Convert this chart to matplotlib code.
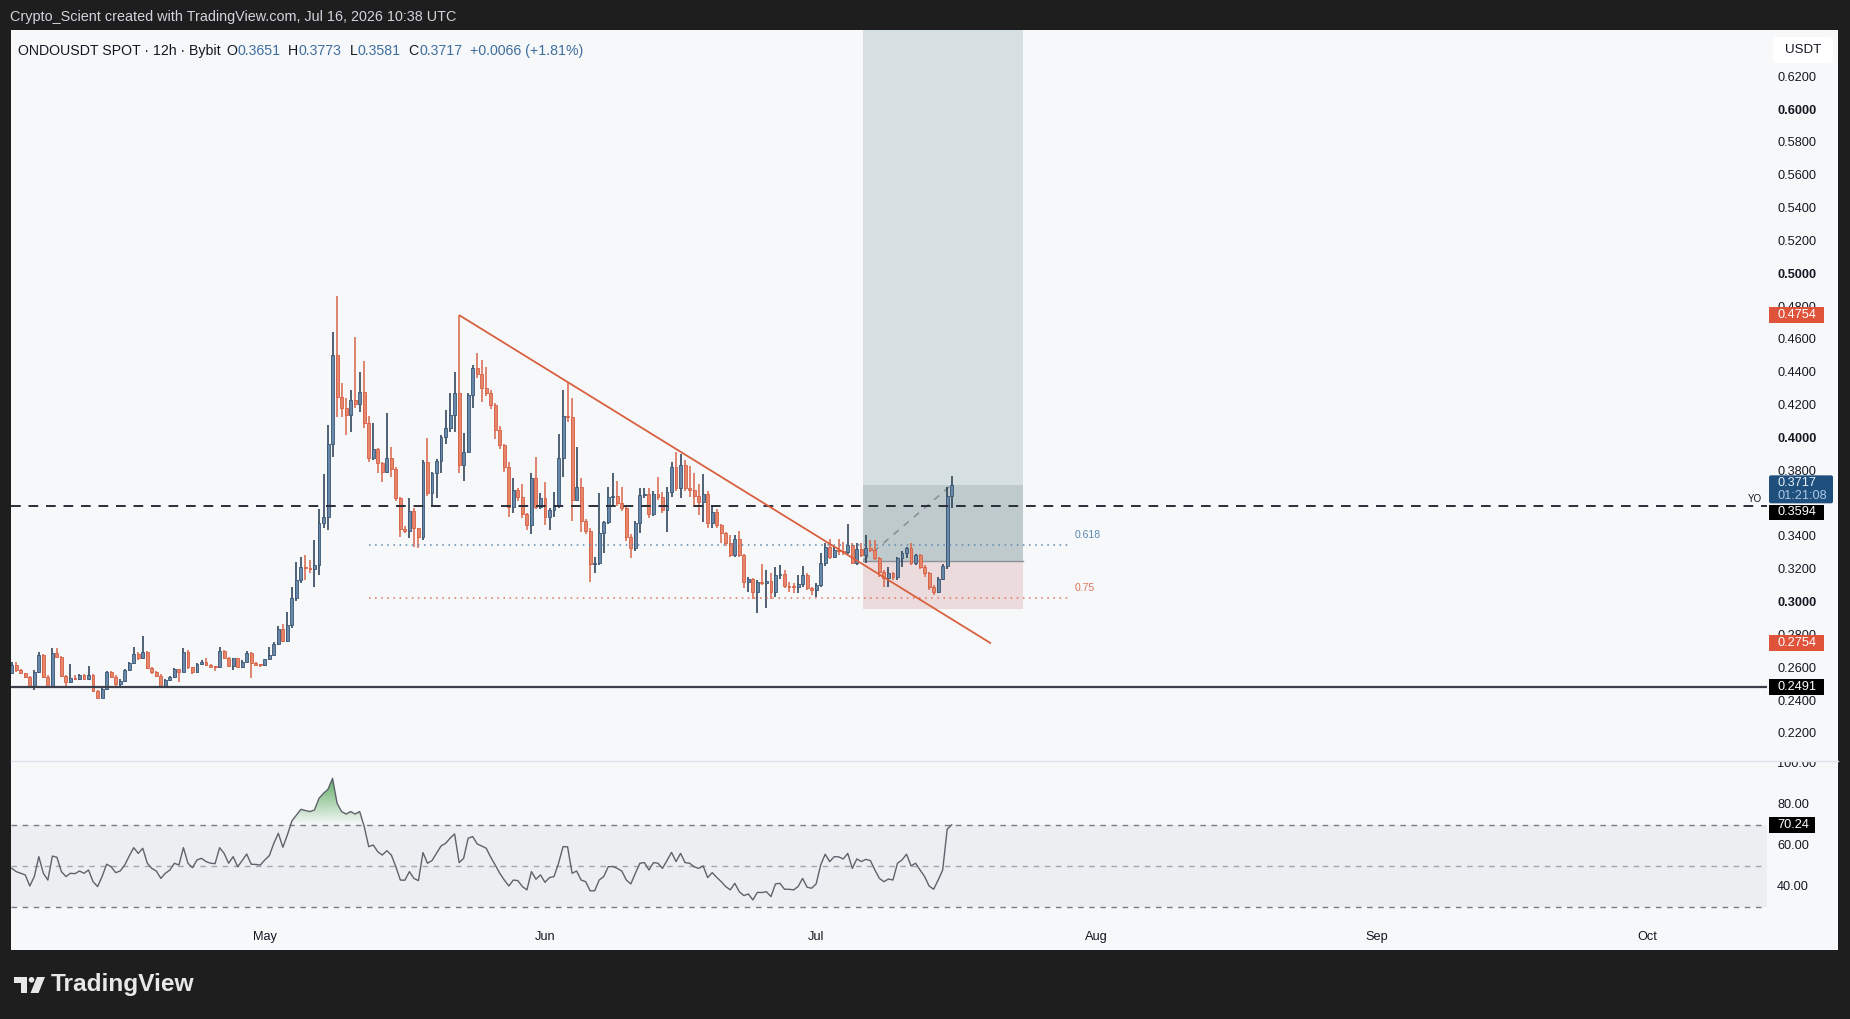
import matplotlib
matplotlib.use("Agg")
import matplotlib.pyplot as plt
import matplotlib.dates as mdates
from matplotlib.patches import Rectangle, Polygon, Circle, PathPatch, FancyBboxPatch
from matplotlib.path import Path
from matplotlib.colors import to_rgb
import numpy as np
import pandas as pd

# ---------------- data ----------------
start = "2026-04-03 00:00"   # first visible 12h candle

opens = [
    0.2575, 0.2623, 0.2592, 0.2572, 0.2552, 0.2491, 0.2582, 0.2684, 0.2552, 0.2491,
    0.2694, 0.2673, 0.2558, 0.2521, 0.2541, 0.2537, 0.2562, 0.2537, 0.2562, 0.2464,
    0.2424, 0.2476, 0.2578, 0.2552, 0.2505, 0.2527, 0.2592, 0.2633, 0.2688, 0.2663,
    0.2704, 0.2606, 0.2578, 0.2558, 0.2495, 0.2531, 0.2552, 0.2598, 0.2582, 0.2704,
    0.2608, 0.2578, 0.2629, 0.2643, 0.2623, 0.2613, 0.2608, 0.2708, 0.2667, 0.2616,
    0.2663, 0.2613, 0.2643, 0.2694, 0.2633, 0.2623, 0.2620, 0.2657, 0.2684, 0.2748,
    0.2840, 0.2770, 0.2866, 0.3029, 0.3140, 0.3221, 0.3211, 0.3206, 0.3232, 0.3485,
    0.3522, 0.3969, 0.4511, 0.4257, 0.4186, 0.4145, 0.4237, 0.4212, 0.4288, 0.4095,
    0.3881, 0.3936, 0.3855, 0.3800, 0.3881, 0.3814, 0.3638, 0.3449, 0.3441, 0.3563,
    0.3455, 0.3404, 0.3861, 0.3672, 0.3790, 0.3867, 0.4013, 0.4064, 0.4145, 0.4277,
    0.3840, 0.3922, 0.4267, 0.4430, 0.4395, 0.4308, 0.4277, 0.4206, 0.4054, 0.3963,
    0.3831, 0.3587, 0.3689, 0.3648, 0.3542, 0.3475, 0.3760, 0.3587, 0.3638, 0.3526,
    0.3567, 0.3591, 0.3881, 0.4139, 0.4135, 0.3628, 0.3705, 0.3502, 0.3441, 0.3238,
    0.3246, 0.3429, 0.3492, 0.3644, 0.3652, 0.3608, 0.3577, 0.3404, 0.3333, 0.3490,
    0.3658, 0.3664, 0.3542, 0.3664, 0.3644, 0.3567, 0.3678, 0.3831, 0.3699, 0.3841,
    0.3699, 0.3690, 0.3652, 0.3618, 0.3662, 0.3485, 0.3556, 0.3475, 0.3425, 0.3364,
    0.3293, 0.3388, 0.3293, 0.3130, 0.3144, 0.3069, 0.3130, 0.3125, 0.3136, 0.3069,
    0.3171, 0.3177, 0.3104, 0.3100, 0.3095, 0.3116, 0.3171, 0.3090, 0.3079, 0.3110,
    0.3246, 0.3343, 0.3282, 0.3323, 0.3318, 0.3313, 0.3354, 0.3242, 0.3327, 0.3293,
    0.3333, 0.3323, 0.3272, 0.3191, 0.3150, 0.3181, 0.3156, 0.3272, 0.3303, 0.3338,
    0.3242, 0.3290, 0.3222, 0.3181, 0.3100, 0.3069, 0.3144, 0.3225, 0.3651,
]
highs = [
    0.2640, 0.2643, 0.2600, 0.2575, 0.2556, 0.2590, 0.2700, 0.2690, 0.2560, 0.2724,
    0.2724, 0.2680, 0.2560, 0.2627, 0.2560, 0.2570, 0.2568, 0.2618, 0.2565, 0.2470,
    0.2480, 0.2585, 0.2585, 0.2560, 0.2535, 0.2600, 0.2640, 0.2734, 0.2700, 0.2799,
    0.2710, 0.2612, 0.2585, 0.2565, 0.2535, 0.2558, 0.2605, 0.2600, 0.2724, 0.2712,
    0.2612, 0.2635, 0.2650, 0.2667, 0.2628, 0.2618, 0.2730, 0.2715, 0.2672, 0.2668,
    0.2668, 0.2650, 0.2705, 0.2700, 0.2638, 0.2630, 0.2662, 0.2734, 0.2760, 0.2862,
    0.2870, 0.2947, 0.3100, 0.3250, 0.3282, 0.3292, 0.3262, 0.3384, 0.3571, 0.3784,
    0.4085, 0.4653, 0.4870, 0.4338, 0.4247, 0.4298, 0.4618, 0.4409, 0.4474, 0.4140,
    0.4095, 0.3945, 0.3860, 0.4156, 0.3952, 0.3830, 0.3645, 0.3470, 0.3638, 0.3580,
    0.3460, 0.3871, 0.4004, 0.3800, 0.3880, 0.4025, 0.4176, 0.4278, 0.4409, 0.4754,
    0.4034, 0.4280, 0.4450, 0.4525, 0.4480, 0.4438, 0.4300, 0.4220, 0.4080, 0.3970,
    0.3860, 0.3760, 0.3700, 0.3725, 0.3550, 0.3790, 0.3888, 0.3668, 0.3739, 0.3580,
    0.3678, 0.4030, 0.4298, 0.4338, 0.4247, 0.3948, 0.3760, 0.3510, 0.3460, 0.3282,
    0.3672, 0.3500, 0.3705, 0.3794, 0.3745, 0.3709, 0.3590, 0.3420, 0.3500, 0.3699,
    0.3699, 0.3699, 0.3680, 0.3765, 0.3678, 0.3705, 0.3861, 0.3922, 0.3906, 0.3871,
    0.3835, 0.3790, 0.3725, 0.3786, 0.3680, 0.3597, 0.3570, 0.3480, 0.3430, 0.3414,
    0.3414, 0.3441, 0.3300, 0.3160, 0.3150, 0.3140, 0.3238, 0.3201, 0.3185, 0.3221,
    0.3232, 0.3201, 0.3130, 0.3120, 0.3171, 0.3225, 0.3180, 0.3100, 0.3120, 0.3307,
    0.3368, 0.3388, 0.3343, 0.3388, 0.3374, 0.3481, 0.3364, 0.3368, 0.3364, 0.3414,
    0.3384, 0.3384, 0.3280, 0.3200, 0.3218, 0.3190, 0.3283, 0.3320, 0.3343, 0.3364,
    0.3300, 0.3300, 0.3230, 0.3190, 0.3110, 0.3156, 0.3238, 0.3709, 0.3773,
]
lows = [
    0.2565, 0.2582, 0.2565, 0.2545, 0.2486, 0.2470, 0.2575, 0.2545, 0.2486, 0.2488,
    0.2665, 0.2550, 0.2490, 0.2510, 0.2530, 0.2530, 0.2530, 0.2530, 0.2456, 0.2415,
    0.2420, 0.2470, 0.2545, 0.2485, 0.2490, 0.2520, 0.2585, 0.2628, 0.2655, 0.2660,
    0.2600, 0.2570, 0.2550, 0.2488, 0.2485, 0.2525, 0.2545, 0.2521, 0.2578, 0.2600,
    0.2570, 0.2572, 0.2625, 0.2618, 0.2608, 0.2586, 0.2605, 0.2660, 0.2610, 0.2592,
    0.2605, 0.2605, 0.2638, 0.2541, 0.2615, 0.2612, 0.2617, 0.2652, 0.2680, 0.2745,
    0.2760, 0.2760, 0.2850, 0.3010, 0.3120, 0.3140, 0.3180, 0.3100, 0.3171, 0.3455,
    0.3445, 0.3892, 0.4135, 0.4135, 0.4024, 0.4044, 0.4190, 0.4166, 0.4064, 0.3860,
    0.3870, 0.3794, 0.3739, 0.3790, 0.3766, 0.3620, 0.3404, 0.3425, 0.3394, 0.3343,
    0.3333, 0.3384, 0.3650, 0.3597, 0.3638, 0.3790, 0.3968, 0.4044, 0.4044, 0.3790,
    0.3745, 0.3912, 0.4186, 0.4370, 0.4226, 0.4260, 0.4180, 0.4000, 0.3940, 0.3800,
    0.3526, 0.3546, 0.3620, 0.3520, 0.3445, 0.3420, 0.3570, 0.3570, 0.3475, 0.3445,
    0.3526, 0.3580, 0.3770, 0.4105, 0.3502, 0.3620, 0.3435, 0.3420, 0.3130, 0.3185,
    0.3230, 0.3302, 0.3480, 0.3587, 0.3590, 0.3560, 0.3380, 0.3272, 0.3320, 0.3428,
    0.3640, 0.3520, 0.3530, 0.3630, 0.3550, 0.3435, 0.3648, 0.3680, 0.3638, 0.3680,
    0.3648, 0.3587, 0.3536, 0.3496, 0.3455, 0.3455, 0.3460, 0.3364, 0.3350, 0.3280,
    0.3280, 0.3280, 0.3090, 0.3069, 0.3023, 0.2937, 0.3110, 0.2968, 0.3023, 0.3035,
    0.3144, 0.3090, 0.3069, 0.3059, 0.3059, 0.3100, 0.3079, 0.3049, 0.3039, 0.3100,
    0.3226, 0.3270, 0.3272, 0.3293, 0.3293, 0.3300, 0.3238, 0.3230, 0.3280, 0.3242,
    0.3310, 0.3260, 0.3161, 0.3100, 0.3100, 0.3140, 0.3140, 0.3222, 0.3272, 0.3230,
    0.3230, 0.3210, 0.3156, 0.3079, 0.3049, 0.3060, 0.3140, 0.3210, 0.3581,
]
closes = [
    0.2623, 0.2592, 0.2572, 0.2552, 0.2491, 0.2582, 0.2684, 0.2552, 0.2491, 0.2694,
    0.2673, 0.2558, 0.2521, 0.2541, 0.2537, 0.2562, 0.2537, 0.2562, 0.2464, 0.2424,
    0.2476, 0.2578, 0.2552, 0.2505, 0.2527, 0.2592, 0.2633, 0.2688, 0.2663, 0.2704,
    0.2606, 0.2578, 0.2558, 0.2495, 0.2531, 0.2552, 0.2598, 0.2582, 0.2704, 0.2608,
    0.2578, 0.2629, 0.2643, 0.2623, 0.2613, 0.2608, 0.2708, 0.2667, 0.2616, 0.2663,
    0.2613, 0.2643, 0.2694, 0.2633, 0.2623, 0.2620, 0.2657, 0.2684, 0.2748, 0.2840,
    0.2770, 0.2866, 0.3029, 0.3140, 0.3221, 0.3211, 0.3206, 0.3232, 0.3485, 0.3522,
    0.3969, 0.4511, 0.4257, 0.4186, 0.4145, 0.4237, 0.4212, 0.4288, 0.4095, 0.3881,
    0.3936, 0.3855, 0.3800, 0.3881, 0.3814, 0.3638, 0.3449, 0.3441, 0.3563, 0.3455,
    0.3404, 0.3861, 0.3672, 0.3790, 0.3867, 0.4013, 0.4064, 0.4145, 0.4277, 0.3840,
    0.3922, 0.4267, 0.4430, 0.4395, 0.4308, 0.4277, 0.4206, 0.4054, 0.3963, 0.3831,
    0.3587, 0.3689, 0.3648, 0.3542, 0.3475, 0.3760, 0.3587, 0.3638, 0.3526, 0.3567,
    0.3591, 0.3881, 0.4139, 0.4135, 0.3628, 0.3705, 0.3502, 0.3441, 0.3238, 0.3246,
    0.3429, 0.3492, 0.3644, 0.3652, 0.3608, 0.3577, 0.3404, 0.3333, 0.3490, 0.3658,
    0.3664, 0.3542, 0.3664, 0.3644, 0.3567, 0.3678, 0.3831, 0.3699, 0.3841, 0.3699,
    0.3690, 0.3652, 0.3618, 0.3662, 0.3485, 0.3556, 0.3475, 0.3425, 0.3364, 0.3293,
    0.3388, 0.3293, 0.3130, 0.3144, 0.3069, 0.3130, 0.3125, 0.3136, 0.3069, 0.3171,
    0.3177, 0.3104, 0.3100, 0.3095, 0.3116, 0.3171, 0.3090, 0.3079, 0.3110, 0.3246,
    0.3343, 0.3282, 0.3323, 0.3318, 0.3313, 0.3354, 0.3242, 0.3327, 0.3293, 0.3333,
    0.3323, 0.3272, 0.3191, 0.3150, 0.3181, 0.3156, 0.3272, 0.3303, 0.3338, 0.3242,
    0.3290, 0.3222, 0.3181, 0.3100, 0.3069, 0.3144, 0.3225, 0.3651, 0.3717,
]
rsi = [
    49.0, 47.4, 46.6, 45.8, 40.4, 45.0, 54.7, 46.6, 43.3, 55.0,
    54.4, 47.4, 45.0, 46.6, 46.4, 47.7, 46.6, 48.2, 42.5, 40.1,
    45.0, 51.0, 49.8, 46.9, 47.7, 50.6, 55.0, 59.1, 56.3, 58.8,
    51.5, 49.0, 47.7, 44.1, 46.6, 48.2, 51.5, 50.6, 59.1, 51.5,
    49.3, 53.1, 53.9, 52.3, 51.5, 51.3, 59.1, 56.3, 51.5, 54.7,
    49.8, 52.8, 56.0, 51.0, 50.9, 50.6, 53.1, 55.2, 61.2, 66.1,
    59.3, 65.3, 72.1, 75.0, 77.8, 77.2, 76.7, 77.5, 83.2, 85.6,
    87.6, 92.9, 80.7, 76.7, 75.5, 76.7, 75.5, 76.7, 69.4, 59.6,
    60.4, 57.1, 55.5, 57.6, 55.5, 49.8, 43.3, 43.2, 47.4, 44.1,
    43.0, 56.7, 51.5, 52.8, 56.3, 59.9, 61.2, 63.7, 65.8, 51.8,
    53.9, 63.7, 64.5, 60.9, 59.9, 58.8, 54.4, 50.6, 46.6, 43.3,
    40.4, 43.3, 43.0, 40.1, 38.5, 47.4, 43.7, 45.8, 42.2, 44.5,
    45.0, 51.5, 59.6, 59.5, 46.6, 47.7, 43.3, 42.5, 38.0, 38.1,
    43.3, 45.0, 49.8, 49.9, 49.0, 47.7, 43.3, 41.4, 46.6, 51.5,
    51.8, 48.2, 51.8, 51.5, 49.0, 52.8, 56.8, 52.3, 56.3, 51.8,
    51.5, 49.8, 49.0, 50.2, 44.5, 46.9, 44.6, 42.5, 40.1, 38.5,
    41.7, 37.6, 35.7, 36.5, 33.6, 37.3, 37.2, 37.6, 35.2, 41.4,
    41.7, 38.8, 38.8, 38.5, 40.1, 44.1, 39.8, 39.3, 41.4, 50.6,
    55.9, 52.3, 54.7, 54.6, 53.6, 56.3, 49.0, 53.6, 52.3, 53.4,
    52.8, 48.2, 44.1, 42.5, 43.8, 43.3, 51.5, 53.1, 55.9, 50.2,
    51.5, 48.2, 45.0, 40.4, 38.8, 43.3, 48.2, 68.1, 70.24,
]

# price-scale labels (0.3600 is fully hidden behind the last-price tags in the reference)
price_ticks = [0.22, 0.24, 0.26, 0.28, 0.30, 0.32, 0.34, 0.38, 0.40, 0.42,
               0.44, 0.46, 0.48, 0.50, 0.52, 0.54, 0.56, 0.58, 0.60, 0.62]
bold_ticks = [0.30, 0.40, 0.50, 0.60]
rsi_ticks = [40, 60, 80, 100]
rsi_levels = [70, 50, 30]
month_dates = ["2026-05-01", "2026-06-01", "2026-07-01", "2026-08-01", "2026-09-01", "2026-10-01"]
month_labels = ["May", "Jun", "Jul", "Aug", "Sep", "Oct"]

yearly_open = 0.3594
support = 0.2491
trend_dates = ["2026-05-22 12:00", "2026-07-20 08:24"]
trend_prices = [0.4754, 0.2754]
fib_dates = ["2026-05-12 13:00", "2026-07-28 20:00"]
fib_label_date = "2026-07-29 14:00"
fib_labels = ["0.618", "0.75"]
fib_prices = [0.3354, 0.3030]
pos_dates = ["2026-07-06 05:00", "2026-07-23 22:00"]
pos_entry, pos_stop, pos_target, pos_current = 0.3259, 0.2966, 0.6800, 0.3717
diag_dates = ["2026-07-06 05:00", "2026-07-15 22:00"]
diag_prices = [0.3259, 0.3717]
last_price = 0.3717
countdown = "01:21:08"
red_marks = [0.4754, 0.2754]
rsi_last = 70.24
legend_title = "ONDOUSDT SPOT · 12h · Bybit"
change_text = "+0.0066 (+1.81%)"

# ---------------- style ----------------
BG = "#1e1e1e"
PANEL = "#f7f8fa"
TXT = "#131722"
UP_F, UP_E, UP_W = "#6888aa", "#3a5573", "#22384f"
DN_F, DN_E, DN_W = "#e8866b", "#d45f43", "#d8654a"
FONT = "Liberation Sans"

W, H = 1850, 1019
fig = plt.figure(figsize=(W / 100, H / 100), dpi=100)
fig.patch.set_facecolor(BG)

ov = fig.add_axes([0, 0, 1, 1], zorder=0)
ov.set_xlim(0, W); ov.set_ylim(H, 0); ov.axis("off")
ov.add_patch(Rectangle((11, 30), 1827, 920, facecolor=PANEL, edgecolor="none"))

L, R = 11, 1767
T1, B1 = 30, 761
T2, B2 = 761, 922
ax = fig.add_axes([L / W, 1 - B1 / H, (R - L) / W, (B1 - T1) / H], zorder=2)
ax2 = fig.add_axes([L / W, 1 - B2 / H, (R - L) / W, (B2 - T2) / H], zorder=2)
for a in (ax, ax2):
    a.set_facecolor("none")
    a.axis("off")

top = fig.add_axes([0, 0, 1, 1], zorder=5)
top.set_xlim(0, W); top.set_ylim(H, 0); top.axis("off")
top.patch.set_alpha(0)

dates = pd.date_range(start, periods=len(closes), freq="12h")
xs = mdates.date2num(dates)
o, h, l, c = (np.array(v) for v in (opens, highs, lows, closes))
xlim = (xs[0] - 0.078, xs[0] + 194.2)
ax.set_xlim(*xlim); ax2.set_xlim(*xlim)
ax.set_ylim(0.20378, 0.64906)
ax2.set_ylim(22.83, 101.37)

# ---- position tool ----
px0, px1 = mdates.date2num(pd.to_datetime(pos_dates))
ax.add_patch(Rectangle((px0, pos_entry), px1 - px0, pos_target - pos_entry,
                       facecolor="#d6dfe1", edgecolor="none", zorder=0.5))
ax.add_patch(Rectangle((px0, pos_entry), px1 - px0, pos_current - pos_entry,
                       facecolor="#bfcacc", edgecolor="none", zorder=0.6))
ax.add_patch(Rectangle((px0, pos_stop), px1 - px0, pos_entry - pos_stop,
                       facecolor="#ecdbdc", edgecolor="none", zorder=0.5))
ax.plot([px0, px1], [pos_entry, pos_entry], color="#8c9199", lw=1.0, zorder=0.7)
ax.plot(mdates.date2num(pd.to_datetime(diag_dates)), diag_prices, color="#8c9199",
        lw=1.2, ls=(0, (4, 4)), zorder=0.8)

# ---- candles ----
up = c >= o
ax.vlines(xs, l, h, colors=np.where(up, UP_W, DN_W), lw=1.1, zorder=3)
ax.bar(xs, np.maximum(np.abs(c - o), 0.0006), bottom=np.minimum(o, c), width=0.32,
       color=np.where(up, UP_F, DN_F), edgecolor=np.where(up, UP_E, DN_E),
       linewidth=0.6, zorder=4)

# ---- horizontal lines (drawn over the candles, as in TradingView) ----
ax.axhline(yearly_open, color="#2a2e39", lw=1.4, ls=(0, (5, 4)), zorder=5)
ax.axhline(support, color="#3b3f4a", lw=1.6, zorder=5)

fx = mdates.date2num(pd.to_datetime(fib_dates))
flx = mdates.date2num(pd.to_datetime(fib_label_date))
for lab, p, col in zip(fib_labels, fib_prices, ["#5b87ad", "#df7359"]):
    ax.plot(fx, [p, p], color=col, lw=1.1, ls=(0, (1, 3)), zorder=5)
    ax.text(flx, p + 0.006, lab, color=col, fontsize=7.5, ha="left", va="center",
            family=FONT, zorder=6)

ax.plot(mdates.date2num(pd.to_datetime(trend_dates)), trend_prices, color="#d9603f",
        lw=1.3, zorder=6, solid_capstyle="butt")

# ---- RSI ----
r = np.array(rsi)
ax2.axhspan(30, 70, color="#eceef1", zorder=0, lw=0)
for lv, col in zip(rsi_levels, ["#787b86", "#a3a6af", "#787b86"]):
    ax2.axhline(lv, color=col, lw=1.0, ls=(0, (4, 4)), zorder=1)
fb = ax2.fill_between(xs, r, 70, where=r >= 70, interpolate=True,
                      facecolor="none", edgecolor="none")
paths = fb.get_paths()
if paths:
    cp = Path.make_compound_path(*paths)
    grad = np.zeros((100, 1, 4))
    grad[..., :3] = to_rgb("#43a047")
    grad[:, 0, 3] = np.linspace(0.0, 0.85, 100)
    im = ax2.imshow(grad, extent=[xs[0], xs[-1], 70, r.max()], origin="lower",
                    aspect="auto", zorder=2, interpolation="bilinear")
    im.set_clip_path(PathPatch(cp, transform=ax2.transData))
ax2.plot(xs, r, color="#5f626c", lw=1.0, zorder=3)
ax2.set_xlim(*xlim); ax2.set_ylim(22.83, 101.37)

# ---------------- helpers ----------------
renderer = fig.canvas.get_renderer()


def ypx(a, v):
    return H - a.transData.transform((xlim[0], v))[1]


def xpx(a, d):
    return a.transData.transform((d, 0))[0]


def text_width(s, fs, **kw):
    t = top.text(0, 0, s, fontsize=fs, **kw)
    w = t.get_window_extent(renderer=renderer).width
    t.remove()
    return w


def fit_size(s, width, **kw):
    return 10 * width / text_width(s, 10, **kw)


# price axis labels
lab_fs = fit_size("0.6200", 39, family=FONT)
LX = 1777
for v in price_ticks:
    top.text(LX, ypx(ax, v), f"{v:.4f}", ha="left", va="center", fontsize=lab_fs,
             color=TXT, family=FONT,
             fontweight="bold" if any(abs(v - b) < 1e-9 for b in bold_ticks) else "normal")


def box(yc, text, fc, w=55, hgt=16, tc="white"):
    top.add_patch(Rectangle((1769, yc - hgt / 2), w, hgt, facecolor=fc, edgecolor="none", zorder=6))
    top.text(LX, yc, text, ha="left", va="center", fontsize=lab_fs, color=tc,
             family=FONT, zorder=7)


for p in red_marks:
    box(ypx(ax, p), f"{p:.4f}", "#e0533b")
box(ypx(ax, support), f"{support:.4f}", "#000000")
yl = ypx(ax, last_price)
top.add_patch(FancyBboxPatch((1769, yl - 10), 64, 28, boxstyle="round,pad=0,rounding_size=2",
                             facecolor="#1f4f7d", edgecolor="none", zorder=6))
top.text(LX, yl - 2, f"{last_price:.4f}", ha="left", va="center", fontsize=lab_fs,
         color="#e6f0fa", family=FONT, zorder=7)
top.text(LX, yl + 11, countdown, ha="left", va="center", fontsize=lab_fs,
         color="#a9c7e6", family=FONT, zorder=7)
box(yl + 27, f"{yearly_open:.4f}", "#000000", hgt=15)
top.text(1755, ypx(ax, yearly_open) - 7, "YO", ha="center", va="center", fontsize=7,
         color=TXT, family=FONT)

top.add_patch(FancyBboxPatch((1773, 37), 60, 26, boxstyle="round,pad=0,rounding_size=4",
                             facecolor="white", edgecolor="none", zorder=6))
top.text(1803, 50, "USDT", ha="center", va="center", fontsize=lab_fs * 1.05, color=TXT,
         family=FONT, zorder=7)

for v in rsi_ticks:
    top.text(LX, ypx(ax2, v), f"{v:.2f}", ha="left", va="center", fontsize=lab_fs,
             color=TXT, family=FONT)
box(ypx(ax2, rsi_last), f"{rsi_last:.2f}", "#000000", w=46)
top.add_patch(Rectangle((1767, 748), 71, 13, facecolor=PANEL, edgecolor="none", zorder=6))
top.plot([11, 1838], [761, 761], color="#e0e3eb", lw=1.0, zorder=7)

for d, lab in zip(month_dates, month_labels):
    top.text(xpx(ax2, mdates.date2num(pd.to_datetime(d))), 937, lab, ha="center",
             va="center", fontsize=lab_fs, color=TXT, family=FONT)

# header text
hdr = "Crypto_Scient created with TradingView.com, Jul 16, 2026 10:38 UTC"
top.text(10, 17, hdr, fontsize=fit_size(hdr, 448, family=FONT), color="#d1d4dc",
         family=FONT, va="center", ha="left")

# legend line laid out piece by piece, whole line fitted to the reference width
VAL = "#3d6d9e"
pieces = [(legend_title, TXT, 0), ("O", TXT, 0.55), (f"{opens[-1]:.4f}", VAL, 0.05),
          ("H", TXT, 0.75), (f"{highs[-1]:.4f}", VAL, 0.05),
          ("L", TXT, 0.75), (f"{lows[-1]:.4f}", VAL, 0.05),
          ("C", TXT, 0.75), (f"{closes[-1]:.4f}", VAL, 0.05),
          (change_text, VAL, 0.75)]


def legend_width(fs):
    return sum(text_width(s, fs, family=FONT) + g * fs for s, _, g in pieces)


leg_fs = 10 * 565 / legend_width(10)
x = 18
for s, col, g in pieces:
    x += g * leg_fs
    top.text(x, 51, s, fontsize=leg_fs, color=col, family=FONT, va="center", ha="left")
    x += text_width(s, leg_fs, family=FONT)

# TradingView logo
LOGO = "#e8e8e8"
top.add_patch(Polygon([(14, 977), (27, 977), (27, 993), (21, 993), (21, 982.5), (14, 982.5)],
                      closed=True, facecolor=LOGO, edgecolor="none"))
top.add_patch(Circle((31.5, 979.8), 2.8, facecolor=LOGO, edgecolor="none"))
top.add_patch(Polygon([(37, 977), (45, 977), (38.5, 993), (30.5, 993)], closed=True,
                      facecolor=LOGO, edgecolor="none"))
top.text(51, 985, "TradingView", fontsize=fit_size("TradingView", 144, family=FONT, fontweight="bold"),
         color=LOGO, family=FONT, fontweight="bold", va="center", ha="left")

fig.savefig("out.png", dpi=100, facecolor=BG)
